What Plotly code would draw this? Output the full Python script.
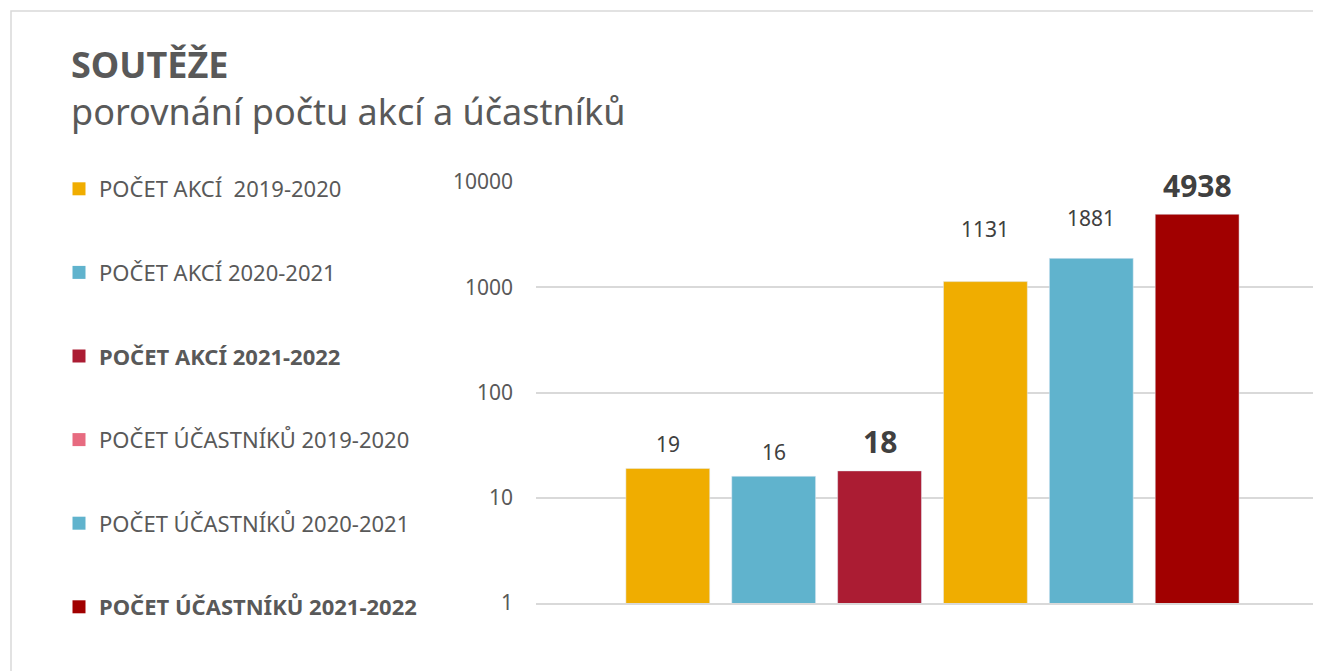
import numpy as np
import plotly.graph_objects as go

# ---- data ----
categories = ["POČET AKCÍ 2019-2020", "POČET AKCÍ 2020-2021", "POČET AKCÍ 2021-2022",
              "POČET ÚČASTNÍKŮ 2019-2020", "POČET ÚČASTNÍKŮ 2020-2021", "POČET ÚČASTNÍKŮ 2021-2022"]
values = [19, 16, 18, 1131, 1881, 4938]
legend_names = ["POČET AKCÍ  2019-2020", "POČET AKCÍ 2020-2021", "<b>POČET AKCÍ 2021-2022</b>",
                "POČET ÚČASTNÍKŮ 2019-2020", "POČET ÚČASTNÍKŮ 2020-2021", "<b>POČET ÚČASTNÍKŮ 2021-2022</b>"]
y_ticks = [1, 10, 100, 1000, 10000]
y_tick_labels = ["1", "10", "100", "1000", "10000"]

# ---- styles ----
bar_colors = ["#F0AD00", "#60B3CD", "#AB1C33", "#F0AD00", "#60B3CD", "#A10000"]
legend_colors = ["#F0AD00", "#60B3CD", "#AB1C33", "#E76B80", "#60B3CD", "#A10000"]
label_bold = [False, False, True, False, False, True]
label_offsets = [24, 24, 29, 53, 40, 29]
FONT = "Noto Sans"
GRAY = "#595959"

OFF = 8  # page body margin
W, H = 1321 - OFF, 671 - OFF
PX0, PX1 = 536 - OFF, 1321 - OFF
PY_TOP, PY_BOT = 182 - OFF, 603 - OFF
pw, ph = PX1 - PX0, PY_BOT - PY_TOP


def px_x(px):
    return (px - OFF - PX0) / pw


def px_y(py):
    return (PY_BOT - (py - OFF)) / ph


fig = go.Figure()
fig.add_trace(go.Bar(x=list(range(len(values))), y=values, marker_color=bar_colors,
                     width=0.792, showlegend=False, hoverinfo="y"))
for i, (n, c) in enumerate(zip(legend_names, legend_colors)):
    fig.add_trace(go.Scatter(x=[None], y=[None], name=n, mode="markers",
                             marker=dict(symbol="square", size=13, color=c, line=dict(width=0)),
                             legendgroup=f"g{i}", showlegend=True))

for i, v in enumerate(values):
    bold = label_bold[i]
    fig.add_annotation(x=i, y=np.log10(v), xref="x", yref="y",
                       text=f"<b>{v}</b>" if bold else str(v),
                       showarrow=False, yanchor="middle", yshift=label_offsets[i],
                       font=dict(family=FONT, size=30 if bold else 21, color="#404040"))

fig.add_annotation(x=px_x(69), y=px_y(88), xref="paper", yref="paper", xanchor="left", yanchor="middle",
                   align="left",
                   text="<b>SOUTĚŽE</b><br>porovnání počtu akcí a účastníků", showarrow=False,
                   font=dict(family=FONT, size=36, color=GRAY))

fig.add_shape(type="rect", xref="paper", yref="paper",
              x0=px_x(11), x1=px_x(1400), y0=px_y(11), y1=px_y(760),
              line=dict(color="#D9D9D9", width=1.5), fillcolor="rgba(0,0,0,0)", layer="below")

fig.update_layout(
    width=W, height=H,
    margin=dict(l=PX0, r=W - PX1, t=PY_TOP, b=H - PY_BOT, pad=0),
    paper_bgcolor="white", plot_bgcolor="white",
    bargap=0.2,
    font=dict(family=FONT, color=GRAY),
    legend=dict(x=px_x(59), y=px_y(168), xanchor="left", yanchor="top",
                font=dict(family=FONT, size=22, color=GRAY),
                tracegroupgap=52, bgcolor="rgba(0,0,0,0)"),
    xaxis=dict(range=[-1.245, 5 + (1321 - 1197) / 106], showticklabels=False, showgrid=False,
               zeroline=False, showline=True, linecolor="#D9D9D9", linewidth=1.5, ticks=""),
    yaxis=dict(type="log", range=[0, 4], tickvals=y_ticks, ticktext=y_tick_labels,
               showgrid=True, gridcolor="#D9D9D9", gridwidth=1.5, zeroline=False, showline=False,
               ticks="", ticklabelstandoff=22, tickfont=dict(family=FONT, size=21, color=GRAY)),
)
try:
    fig.update_layout(legend_maxheight=600)
except Exception:
    pass

fig.write_html("out.html")
